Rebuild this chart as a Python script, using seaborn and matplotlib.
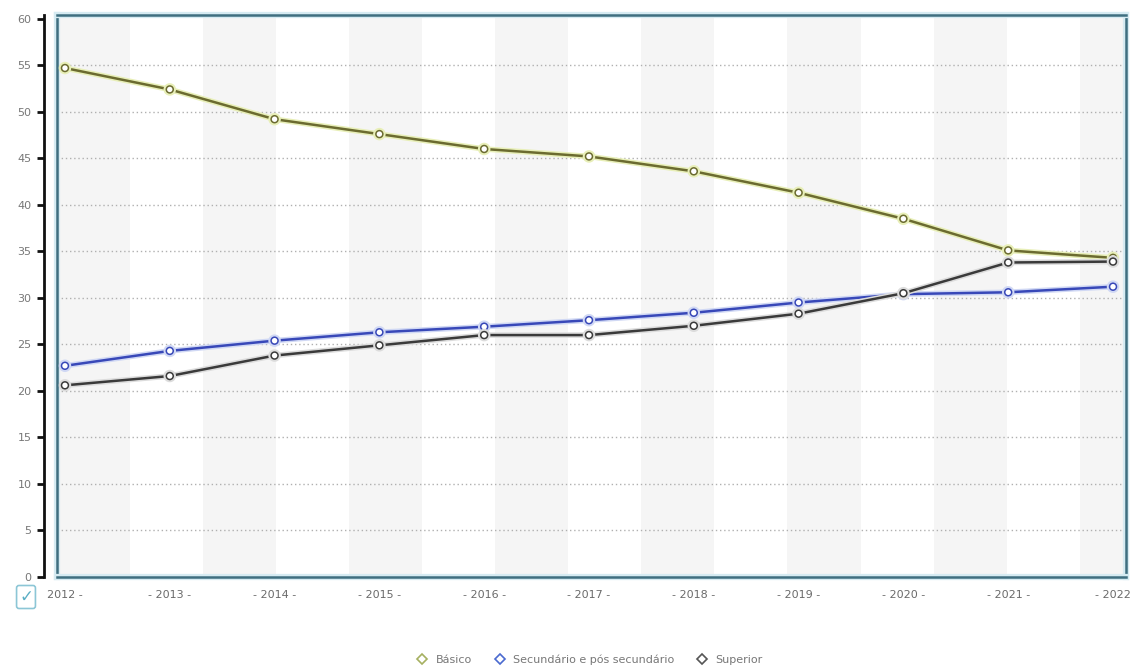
import numpy as np
import pandas as pd
import seaborn as sns
import matplotlib.pyplot as plt
import matplotlib.patheffects as pe
from matplotlib.lines import Line2D

sns.set_theme(style="white")
plt.rcParams["font.family"] = ["DejaVu Sans"]

years = [2012, 2013, 2014, 2015, 2016, 2017, 2018, 2019, 2020, 2021, 2022]
basico = [54.7, 52.4, 49.2, 47.6, 46.0, 45.2, 43.6, 41.3, 38.5, 35.1, 34.3]
secundario = [22.7, 24.3, 25.4, 26.3, 26.9, 27.6, 28.4, 29.5, 30.4, 30.6, 31.2]
superior = [20.6, 21.6, 23.8, 24.9, 26.0, 26.0, 27.0, 28.3, 30.5, 33.8, 33.9]

series_names = ["Básico", "Secundário e pós secundário", "Superior"]
line_colors = ["#6b6b30", "#3848b8", "#3a3a3a"]
halo_colors = ["#e8efb8", "#d0d8f4", "#dcdcdc"]
yticks = list(range(0, 61, 5))
xlabels = ["2012 -"] + [f"- {y} -" for y in years[1:-1]] + ["- 2022"]

df = pd.DataFrame({"Ano": years, series_names[0]: basico,
                   series_names[1]: secundario, series_names[2]: superior})

fig = plt.figure(figsize=(11.37, 6.70), dpi=100)
ax = fig.add_axes([57 / 1137, 1 - 577 / 670, 1069 / 1137, 562 / 670])

xmin, xmax = 2011.924, 2022.124
# alternating light stripes in the background
band = 0.697
for start in np.arange(xmin, xmax, 2 * band):
    ax.axvspan(start, min(start + band, xmax), color="#f5f5f5", lw=0, zorder=0)

for y in yticks[1:-1]:
    ax.axhline(y, color="#b0b0b0", lw=1, ls=(0, (1, 2)), zorder=1)

for name, c, h in zip(series_names, line_colors, halo_colors):
    sns.lineplot(data=df, x="Ano", y=name, ax=ax, color=c, lw=1.8,
                 marker="o", markersize=5, markerfacecolor="white",
                 markeredgecolor=c, markeredgewidth=1.1, zorder=3,
                 path_effects=[pe.withStroke(linewidth=4, foreground=h)])

ax.set_xlim(xmin, xmax)
ax.set_ylim(0, 60.4)
ax.set_xticks(years)
ax.set_xticklabels(xlabels)
ax.tick_params(axis="x", length=0, pad=9, labelsize=8, labelcolor="#6a6a6a")
ax.tick_params(axis="y", left=False, labelleft=False)
ax.set_xlabel("")
ax.set_ylabel("")

for s in ax.spines.values():
    s.set_visible(True)
    s.set_color("#3f6f80")
    s.set_linewidth(1.8)
    s.set_path_effects([pe.withStroke(linewidth=4.5, foreground="#d6ebf2")])

# y axis drawn apart from the plot box
yax = ax.secondary_yaxis(-13 / 1069)
yax.set_yticks(yticks)
yax.spines["left"].set_color("#111111")
yax.spines["left"].set_linewidth(2)
yax.tick_params(axis="y", length=5, width=2, color="#111111", pad=4,
                labelsize=8, labelcolor="#777777")

# checkbox icon
fig.text(26 / 1137, 1 - 597 / 670, "✓", ha="center", va="center",
         fontsize=12, color="#5aaec4",
         bbox=dict(boxstyle="round,pad=0.15", fc="white", ec="#8cc6d6", lw=1.2))

handles = [Line2D([], [], ls="none", marker="D", markersize=5,
                  markerfacecolor="white", markeredgecolor=c, markeredgewidth=1.2)
           for c in ["#a5b060", "#4a6ad0", "#555555"]]
leg = fig.legend(handles, series_names, loc="center", ncol=3,
                 bbox_to_anchor=(587 / 1137, 1 - 660 / 670), frameon=False,
                 fontsize=8, handletextpad=0.2, columnspacing=1.5)
for t in leg.get_texts():
    t.set_color("#777777")

fig.savefig("out.png", dpi=100)
